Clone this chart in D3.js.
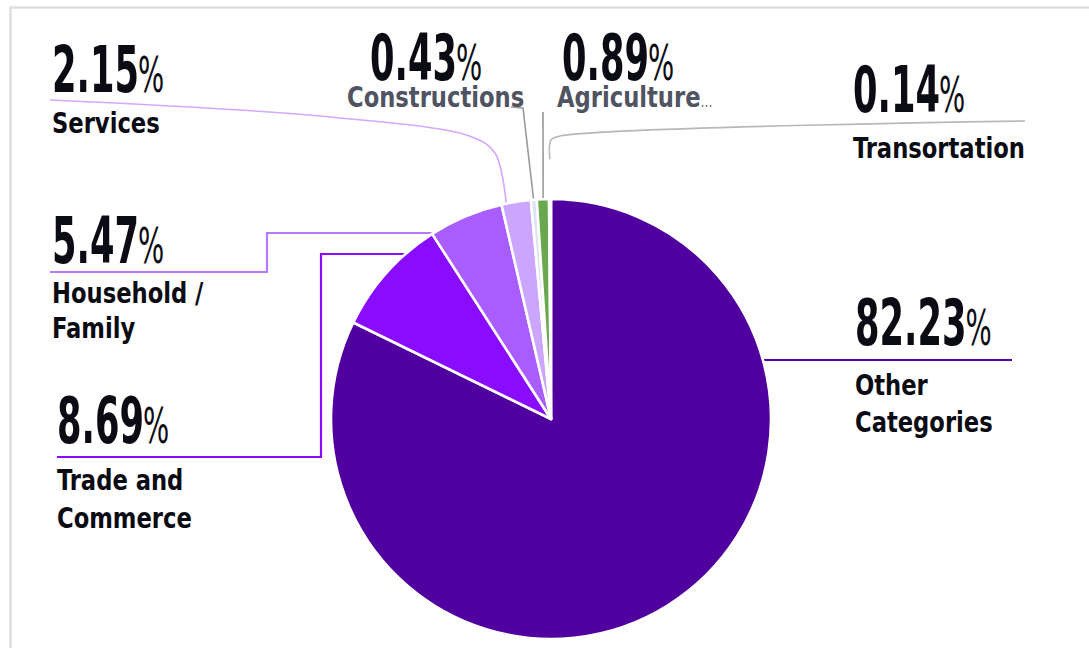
<!DOCTYPE html>
<html>
<head>
<meta charset="utf-8">
<script src="https://cdn.jsdelivr.net/npm/d3@7/dist/d3.min.js"></script>
<style>
  body { margin: 0; background: #fff; }
  svg { display: block; }
  .val, .name { font-family: "DejaVu Sans Condensed", "DejaVu Sans", sans-serif; }
</style>
</head>
<body>
<div id="chart"></div>
<script>
// chart data, clockwise from 12 o'clock
var categories = ["Other Categories", "Trade and Commerce", "Household / Family", "Services", "Constructions", "Agriculture", "Transortation"];
var shares = [82.23, 8.69, 5.47, 2.15, 0.43, 0.89, 0.14];
var nameLines = [["Other", "Categories"], ["Trade and", "Commerce"], ["Household /", "Family"], ["Services"], ["Constructions"], ["Agriculture"], ["Transortation"]];
var sliceColours = ["#50009f", "#8a0cff", "#a95cff", "#cca5ff", "#dce3f2", "#6aa84f", "#d6d6d6"];
var lineColours = ["#5a00b4", "#8a0cff", "#b57bff", "#d3a8ff", "#9a9a9a", "#9a9a9a", "#b8b8b8"];

var W = 1089, H = 648;
var cx = 551, cy = 419, R = 220;

// where each label sits and how its leader line runs
var labelLayout = [
  { x: 855, valueY: 345, nameY: 395, gap: 37, anchorY: 360, side: 1, route: [[1012, 360]] },
  { x: 57, valueY: 443, nameY: 490, gap: 38, anchorY: 254, side: -1, route: [[321, 254], [321, 457], [57, 457]] },
  { x: 52, valueY: 263, nameY: 303, gap: 35, anchorY: 233, side: -1, route: [[267, 233], [267, 272], [50, 272]] },
  { x: 52, valueY: 92, nameY: 133, gap: 0, t: 0.15, rf: 0.98, curved: true, route: [[495, 153], [472, 137], [330, 117], [50, 100]] },
  { x: 370, nameX: 347, valueY: 80, nameY: 107, gap: 0, t: 0.5, rf: 0.975, dim: true, route: [[523, 108], [511, 107]] },
  { x: 562, nameX: 557, valueY: 80, nameY: 107, gap: 0, t: 0.5, rf: 0.975, dim: true, more: true, route: [[543, 112]] },
  { x: 853, valueY: 112, nameY: 158, gap: 0, t: 0.5, rf: 1.18, curved: true, route: [[551, 140], [560, 136], [1025, 121]] }
];

var svg = d3.select("#chart").append("svg")
  .attr("width", W)
  .attr("height", H);

// panel border (left and top only)
svg.append("path")
  .attr("d", "M10.5," + H + "V7.5H" + W)
  .attr("fill", "none")
  .attr("stroke", "#dedede")
  .attr("stroke-width", 2.5);

var pie = d3.pie().sort(null).value(function (d) { return d; });
var slices = pie(shares);
var arc = d3.arc().innerRadius(0).outerRadius(R);

/**
 * First point of a leader line, taken off the pie itself.
 */
function anchorPoint(s, lay) {
  "use strict";
  if (lay.anchorY !== undefined) {
    var dy = lay.anchorY - cy;
    return [cx + lay.side * Math.sqrt(R * R - dy * dy), lay.anchorY];
  }
  var a = s.startAngle + lay.t * (s.endAngle - s.startAngle);
  var r = R * lay.rf;
  return [cx + r * Math.sin(a), cy - r * Math.cos(a)];
}

// leader lines go under the pie
var lines = svg.append("g");
slices.forEach(function (s, i) {
  var lay = labelLayout[i];
  var pts = [anchorPoint(s, lay)].concat(lay.route);
  var gen = d3.line().curve(lay.curved ? d3.curveCatmullRom.alpha(0.5) : d3.curveLinear);
  lines.append("path")
    .attr("d", gen(pts))
    .attr("fill", "none")
    .attr("stroke", lineColours[i])
    .attr("stroke-width", i < 3 ? 2.2 : 1.6);
});

svg.append("g")
  .attr("transform", "translate(" + cx + "," + cy + ")")
  .selectAll("path")
  .data(slices)
  .enter()
  .append("path")
  .attr("d", arc)
  .attr("fill", function (d, i) { return sliceColours[i]; })
  .attr("stroke", "#fff")
  .attr("stroke-width", 2.6)
  .attr("stroke-linejoin", "round");

// work out how much to squeeze the fonts so they look condensed
function naturalWidth(txt, size, weight) {
  var t = svg.append("text").attr("class", "val")
    .attr("font-size", size).attr("font-weight", weight).text(txt);
  var w = t.node().getComputedTextLength();
  t.remove();
  return w;
}
var numScale = 87 / naturalWidth("0.43", 64, "bold");
var nameScale = 172 / naturalWidth("Transortation", 29, "bold");

var labels = svg.append("g");
slices.forEach(function (s, i) {
  var lay = labelLayout[i];
  var v = labels.append("text")
    .attr("class", "val")
    .attr("transform", "translate(" + lay.x + "," + lay.valueY + ") scale(" + numScale + ",1)")
    .attr("fill", "#0b0b14");
  v.append("tspan")
    .attr("font-size", 64)
    .attr("font-weight", "bold")
    .text(d3.format(".2f")(shares[i]));
  v.append("tspan")
    .attr("dx", -1 / numScale)
    .attr("font-size", 50)
    .attr("font-weight", "normal")
    .text("%");

  var nx = lay.nameX !== undefined ? lay.nameX : lay.x;
  nameLines[i].forEach(function (line, j) {
    var n = labels.append("text")
      .attr("class", "name")
      .attr("transform", "translate(" + nx + "," + (lay.nameY + j * lay.gap) + ") scale(" + nameScale + ",1)")
      .attr("font-size", 29)
      .attr("font-weight", "bold")
      .attr("fill", lay.dim ? "#4f5362" : "#0b0b14")
      .text(line);
    if (lay.more) {
      n.append("tspan")
        .attr("font-size", 16)
        .attr("font-weight", "normal")
        .attr("fill", "#6a6d78")
        .text("...");
    }
  });
});
</script>
</body>
</html>
